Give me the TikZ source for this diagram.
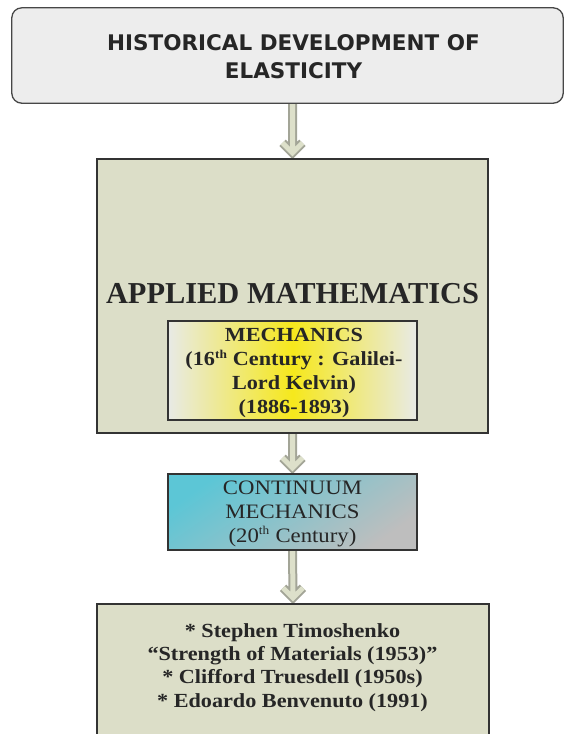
\documentclass[tikz,border=0pt]{standalone}
\usepackage{fontspec}
\setmainfont{Liberation Serif}
\newfontfamily\titlefont{DejaVu Sans}
\newfontfamily\boxfont[FakeStretch=1.11]{Liberation Serif}
\usetikzlibrary{calc}
\definecolor{titlefill}{HTML}{EDEDED}
\definecolor{boxfill}{HTML}{DCDEC8}
\definecolor{boxedge}{HTML}{333333}
\definecolor{arrowedge}{HTML}{A3A597}
\definecolor{arrowfill}{HTML}{DDE0CA}
\definecolor{mechside}{HTML}{E8EAE6}
\definecolor{mechmid}{HTML}{F6E81C}
\definecolor{contcyan}{HTML}{5CC6D6}
\definecolor{contgray}{HTML}{BEBEBE}
\tikzset{
  plainbox/.style={draw=boxedge, line width=1.6pt, inner sep=0pt},
  boxtext/.style={align=center, inner sep=0pt, anchor=base},
  arrowout/.style={line width=9pt, draw=arrowedge, line join=miter},
  arrowin/.style={line width=5pt, draw=arrowfill, line join=miter}
}
\newcommand{\flowarrow}[2]{%
  \draw[arrowout] (#1) -- ($(#2)+(0,-6)$) ($(#2)+(-10,-16)$) -- ($(#2)+(0,-6)$) -- ($(#2)+(10,-16)$);
  \draw[arrowin] (#1) -- ($(#2)+(0,-6)$) ($(#2)+(-10,-16)$) -- ($(#2)+(0,-6)$) -- ($(#2)+(10,-16)$);
}
\begin{document}
\begin{tikzpicture}[x=1pt,y=-1pt]
\useasboundingbox (0,0) rectangle (565,734);
% boxes (shapes only, for anchors)
\path (287.5,55.5) node[minimum width=551pt, minimum height=95pt, inner sep=0pt] (title) {};
\path (292.5,296) node[minimum width=391pt, minimum height=274pt, inner sep=0pt] (big) {};
\path (292.5,512) node[minimum width=249pt, minimum height=76pt, inner sep=0pt] (cont) {};
\path (293,684) node[minimum width=392pt, minimum height=160pt, inner sep=0pt] (last) {};
% arrows
\flowarrow{title.south -| big.north}{big.north}
\flowarrow{big.south}{cont.north}
\flowarrow{cont.south}{last.north}
% drawn boxes
\draw[draw=boxedge!90, line width=1.3pt, fill=titlefill, rounded corners=10pt] (title.south west) rectangle (title.north east);
\draw[plainbox, fill=boxfill] (big.south west) rectangle (big.north east);
\node[plainbox, minimum width=249pt, minimum height=99pt, left color=mechside, right color=mechside, middle color=mechmid] (mech) at (292.5,370.5) {};
\draw[plainbox, left color=contcyan, right color=contgray, shading angle=35] (cont.south west) rectangle (cont.north east);
\draw[plainbox, fill=boxfill] (last.south west) rectangle (last.north east);
% texts (base anchor = baseline of the last line)
\node[boxtext, font=\titlefont\bfseries\fontsize{21.5}{28}\selectfont, text=black!85] (titletext) at (293.5,78) {HISTORICAL DEVELOPMENT OF\\ELASTICITY};
\node[boxtext, font=\bfseries\fontsize{30.4}{36}\selectfont, text=black!85] (amtext) at (292.5,303) {APPLIED MATHEMATICS};
\node[boxtext, font=\boxfont\bfseries\fontsize{20}{23.7}\selectfont, text=black!85] (mechtext) at (294,413) {MECHANICS\\(16\textsuperscript{\fontsize{12}{12}\selectfont th} Century : Galilei-\\Lord Kelvin)\\(1886-1893)};
\node[boxtext, font=\boxfont\fontsize{20.5}{24}\selectfont, text=black!85] (conttext) at (292.5,542) {CONTINUUM\\MECHANICS\\(20\textsuperscript{\fontsize{12}{12}\selectfont th} Century)};
\node[boxtext, font=\boxfont\bfseries\fontsize{20}{23.3}\selectfont, text=black!85] (lasttext) at (292.5,707) {* Stephen Timoshenko\\“Strength of Materials (1953)”\\* Clifford Truesdell (1950s)\\* Edoardo Benvenuto (1991)};
\end{tikzpicture}
\end{document}
